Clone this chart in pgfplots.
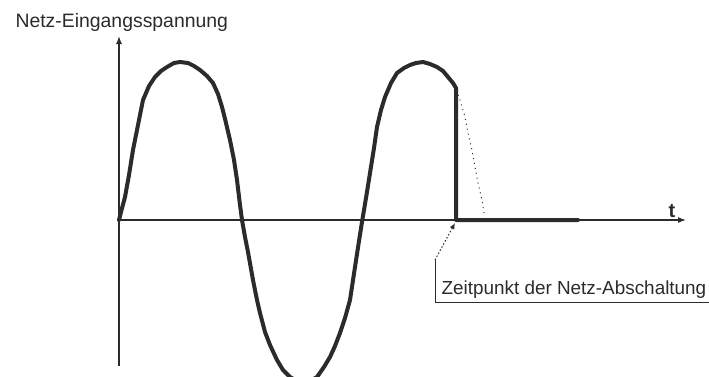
\documentclass[border=0pt]{standalone}
\usepackage{fontspec}
\setmainfont{Liberation Sans}
\usepackage{pgfplots}
\pgfplotsset{compat=1.18}
\usetikzlibrary{arrows.meta}
\definecolor{ink}{HTML}{2B2B2B}
\begin{document}
\begin{tikzpicture}
\begin{axis}[
  at={(0,0)}, anchor=south west,
  width=709pt, height=376pt, scale only axis,
  xmin=0, xmax=709, ymin=-376, ymax=0,
  hide axis, clip=false,
]
\coordinate (bbSW) at (rel axis cs:0,0);
\coordinate (bbNE) at (rel axis cs:1,1);

% axes with arrow heads
\addplot[ink, line width=1.3pt, -{Latex[length=8pt,width=6pt]}]
  coordinates {(119,-220) (686,-220)};
\addplot[ink, line width=1.3pt, -{Latex[length=8pt,width=6pt]}]
  coordinates {(119,-366) (119,-36)};

% mains voltage, switched off at t = 456
\addplot[ink, line width=4pt, line join=round, line cap=round] coordinates {
(119,-220) (121,-212) (125,-197) (129,-175) (133,-150) (138,-125)
(143,-100) (149,-86) (155,-77) (161,-71) (167,-67) (174,-63) (180,-62)
(188,-63) (194,-66) (200,-70) (207,-76) (213,-83) (218,-94) (222,-107)
(226,-123) (230,-140) (234,-160) (237,-180) (240,-205) (242,-220)
(245,-237) (248,-252) (253,-280) (257,-300) (260,-313) (265,-332)
(270,-345) (277,-360) (283,-370) (290,-377) (297,-381) (303,-382)
(310,-381) (317,-377) (324,-367) (330,-357) (335,-346) (340,-333)
(345,-318) (350,-300) (355,-267) (359,-241) (362,-222) (366,-198)
(370,-173) (374,-148) (377,-127) (381,-110) (385,-97) (391,-83)
(397,-73) (404,-68) (410,-65) (416,-63) (423,-62) (430,-64) (437,-67)
(443,-71) (448,-77) (453,-83) (456,-88) (456,-220) (578,-220)
};

% continuation without switch-off
\addplot[ink, line width=1pt, dash pattern=on 1pt off 4pt] coordinates {
(458,-95) (460,-100) (465,-117) (468,-133) (472,-150) (475,-167)
(478,-183) (482,-200) (484,-213)
};

% pointer to the switch-off instant
\addplot[ink, line width=1pt, dash pattern=on 1.5pt off 2pt,
  -{Latex[length=6pt,width=5pt]}]
  coordinates {(435,-260) (455,-223)};
\addplot[ink, line width=1pt] coordinates {(435,-260) (435,-302) (712,-302)};

\node[anchor=base west, text=ink, font=\fontsize{19.4}{23}\selectfont]
  at (axis cs:12,-27) {Netz-Eingangsspannung};
\node[anchor=base west, text=ink, font=\fontsize{18.9}{23}\selectfont]
  at (axis cs:438,-294) {Zeitpunkt der Netz-Abschaltung};
\node[anchor=base, text=ink, font=\fontsize{20}{22}\selectfont\bfseries]
  at (axis cs:672,-217) {t};
\end{axis}
\pgfresetboundingbox
\useasboundingbox (bbSW) rectangle (bbNE);
\end{tikzpicture}
\end{document}
